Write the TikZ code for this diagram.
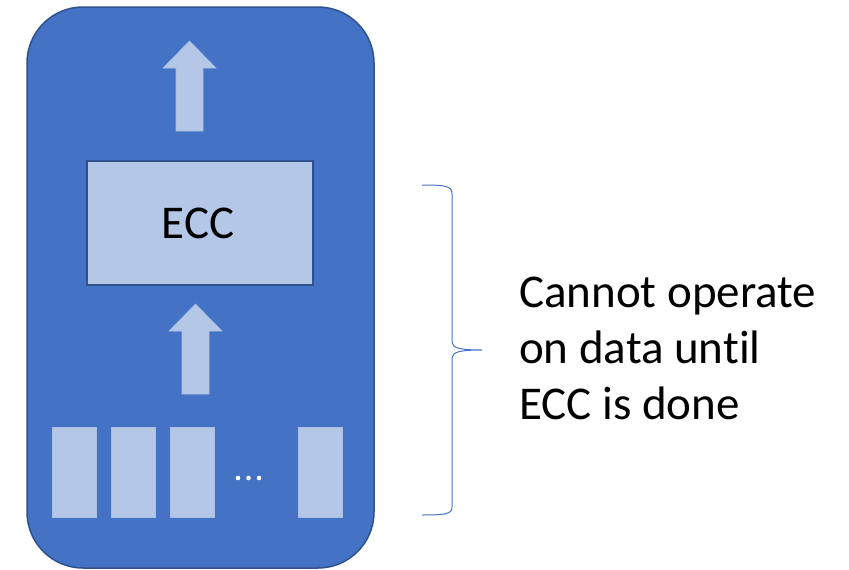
\documentclass[tikz,border=0pt]{standalone}
\usepackage{fontspec}
\setmainfont[Ligatures=NoCommon]{Carlito}
\definecolor{outerblue}{HTML}{4472C4}
\definecolor{edgeblue}{HTML}{2F528F}
\definecolor{lightblue}{HTML}{B4C7E7}
\begin{document}
\begin{tikzpicture}[x=1pt,y=-1pt,
  cell/.style={fill=lightblue, draw=lightblue!90!outerblue, line width=0.6pt},
  bigarrow/.style={fill=lightblue, draw=lightblue!90!outerblue, line width=0.6pt},
  bigtext/.style={font=\fontsize{47}{56}\selectfont, inner sep=0pt}]
\useasboundingbox (0,0) rectangle (849,570);
% outer rounded container
\draw[fill=outerblue, draw=edgeblue, line width=1.5pt, rounded corners=56pt] (27,7) rectangle (374,568);
% ECC box
\node[draw=edgeblue, fill=lightblue, line width=1.5pt, minimum width=226pt, minimum height=124pt, inner sep=0pt] (ecc) at (200,223) {};
\node[bigtext, anchor=base] (ecctext) at (198,238) {ECC};
% top arrow
\filldraw[bigarrow] (176,131) -- (176,68) -- (163,68) -- (189.5,41) -- (216,68) -- (203,68) -- (203,131) -- cycle;
% bottom arrow
\filldraw[bigarrow] (182,394) -- (182,331) -- (169,331) -- (195.5,304) -- (222,331) -- (209,331) -- (209,394) -- cycle;
% memory cells
\node[cell, minimum width=44pt, minimum height=90pt, inner sep=0pt] (c1) at (74,472) {};
\node[cell, minimum width=44pt, minimum height=90pt, inner sep=0pt] (c2) at (133,472) {};
\node[cell, minimum width=44pt, minimum height=90pt, inner sep=0pt] (c3) at (192,472) {};
\node[cell, minimum width=44pt, minimum height=90pt, inner sep=0pt] (c4) at (320,472) {};
% dots
\fill[white] (238,478) circle (2.3pt) (248.5,478) circle (2.3pt) (259,478) circle (2.3pt);
% brace
\draw[outerblue, line width=1pt]
  (422,185) .. controls (446,185) and (452,186) .. (452,194)
  -- (452,342) .. controls (452,348) and (460,350) .. (482,350)
  .. controls (460,350) and (452,352) .. (452,358)
  -- (452,507) .. controls (452,514) and (446,515) .. (422,515);
% label
\node[bigtext, anchor=base west, align=left] (label) at (519,419) {Cannot operate\\on data until\\ECC is done};
\end{tikzpicture}
\end{document}
